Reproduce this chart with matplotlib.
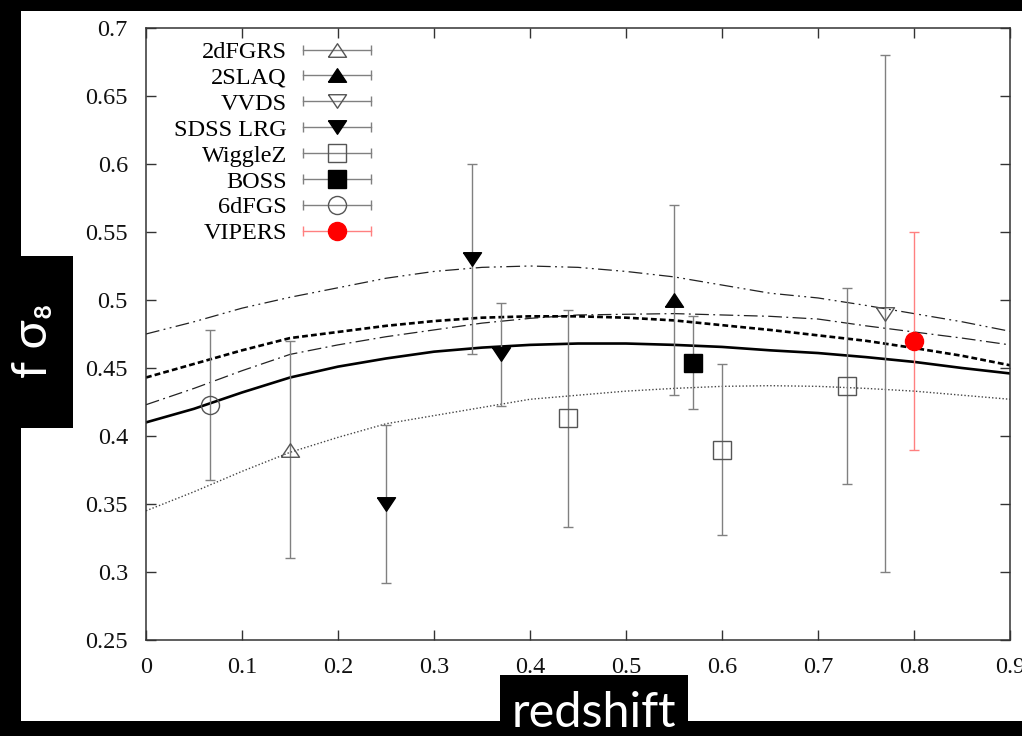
import matplotlib
matplotlib.use("Agg")
import matplotlib.pyplot as plt
from matplotlib.patches import Rectangle
from matplotlib.lines import Line2D
from matplotlib.container import ErrorbarContainer
from matplotlib.legend_handler import HandlerBase

# ---------------- data ----------------
survey_names = ["2dFGRS", "2SLAQ", "VVDS", "SDSS LRG", "WiggleZ", "BOSS", "6dFGS", "VIPERS"]

z_2dfgrs = [0.15]
f_2dfgrs = [0.39]
e_2dfgrs = [0.08]

z_2slaq = [0.55]
f_2slaq = [0.50]
e_2slaq = [0.07]

z_vvds = [0.77]
f_vvds = [0.49]
e_vvds = [0.19]

z_sdss = [0.25, 0.34, 0.37]
f_sdss = [0.35, 0.53, 0.46]
e_sdss = [0.058, 0.07, 0.038]

z_wigglez = [0.44, 0.60, 0.73]
f_wigglez = [0.413, 0.390, 0.437]
e_wigglez = [0.08, 0.063, 0.072]

z_boss = [0.57]
f_boss = [0.454]
e_boss = [0.034]

z_6df = [0.067]
f_6df = [0.423]
e_6df = [0.055]

z_vipers = [0.80]
f_vipers = [0.47]
e_vipers = [0.08]

# model curves, values read at these redshifts
z_model = [0.0, 0.05, 0.10, 0.15, 0.20, 0.25, 0.30, 0.35, 0.40, 0.45,
           0.50, 0.55, 0.60, 0.65, 0.70, 0.75, 0.80, 0.85, 0.90]
f_solid = [0.410, 0.420, 0.432, 0.443, 0.451, 0.457, 0.462, 0.465, 0.467, 0.468,
           0.468, 0.467, 0.4655, 0.463, 0.461, 0.458, 0.4545, 0.450, 0.446]
f_dashed = [0.443, 0.453, 0.463, 0.472, 0.4765, 0.481, 0.4845, 0.487, 0.488, 0.488,
            0.487, 0.485, 0.4815, 0.478, 0.474, 0.470, 0.4647, 0.459, 0.452]
f_dashdot = [0.423, 0.435, 0.448, 0.460, 0.467, 0.473, 0.478, 0.483, 0.4865, 0.489,
             0.4895, 0.490, 0.489, 0.488, 0.486, 0.481, 0.4765, 0.472, 0.467]
f_dashdotdot = [0.475, 0.484, 0.494, 0.502, 0.509, 0.516, 0.521, 0.524, 0.525, 0.524,
                0.521, 0.517, 0.511, 0.505, 0.5015, 0.496, 0.490, 0.484, 0.477]
f_dotted = [0.345, 0.359, 0.374, 0.388, 0.399, 0.409, 0.415, 0.421, 0.427, 0.430,
            0.433, 0.435, 0.4365, 0.437, 0.4365, 0.435, 0.433, 0.430, 0.427]

x_ticks = [0.0, 0.1, 0.2, 0.3, 0.4, 0.5, 0.6, 0.7, 0.8, 0.9]
x_tick_labels = ["0", "0.1", "0.2", "0.3", "0.4", "0.5", "0.6", "0.7", "0.8", "0.9"]
y_ticks = [0.25, 0.30, 0.35, 0.40, 0.45, 0.50, 0.55, 0.60, 0.65, 0.70]
y_tick_labels = ["0.25", "0.3", "0.35", "0.4", "0.45", "0.5", "0.55", "0.6", "0.65", "0.7"]

x_label = "redshift"
y_label = "f σ₈"

# ---------------- style ----------------
W, H = 1022, 736
SERIF = "Liberation Serif"
TICK_FS = 17.5
GREY = "#808080"
OPEN_EC = "#555555"

TRI_UP = [(-1, -0.75), (1, -0.75), (0, 0.75), (-1, -0.75)]
TRI_DN = [(-1, 0.75), (1, 0.75), (0, -0.75), (-1, 0.75)]

fig = plt.figure(figsize=(W / 100, H / 100), dpi=100)
fig.patch.set_facecolor("black")

# white page area
fig.patches.append(Rectangle((21 / W, (H - 721) / H), 1 - 21 / W, (721 - 11) / H,
                             transform=fig.transFigure, facecolor="white",
                             edgecolor="none", zorder=-5))
# black label boxes
fig.patches.append(Rectangle((21 / W, (H - 428) / H), (73 - 21) / W, (428 - 256) / H,
                             transform=fig.transFigure, facecolor="black",
                             edgecolor="none", zorder=1))
fig.patches.append(Rectangle((500 / W, (H - 722) / H), (688 - 500) / W, (722 - 675) / H,
                             transform=fig.transFigure, facecolor="black",
                             edgecolor="none", zorder=1))

ax = fig.add_axes([146 / W, (H - 640) / H, (1010 - 146) / W, (640 - 28) / H])
ax.set_facecolor("white")

# model curves
ax.plot(z_model, f_dotted, color="#444444", lw=1.0, dashes=(1.0, 1.5), zorder=2)
ax.plot(z_model, f_dashdotdot, color="#222222", lw=0.9,
        dashes=(11, 3.5, 1.5, 3.5, 1.5, 3.5), zorder=2)
ax.plot(z_model, f_dashdot, color="#222222", lw=0.9, dashes=(11, 3.5, 1.5, 3.5), zorder=2)
ax.plot(z_model, f_dashed, color="black", lw=1.9, dashes=(2.2, 1.2), zorder=2)
ax.plot(z_model, f_solid, color="black", lw=1.9, zorder=2)

eb_kw = dict(linestyle="none", elinewidth=1.0, capsize=3.5, capthick=1.0, zorder=3)

series = [
    (z_2dfgrs, f_2dfgrs, e_2dfgrs, dict(marker=TRI_UP, ms=13, mfc="none", mec=OPEN_EC, mew=1.0, ecolor=GREY)),
    (z_2slaq, f_2slaq, e_2slaq, dict(marker=TRI_UP, ms=13, mfc="black", mec="black", mew=1.0, ecolor=GREY)),
    (z_vvds, f_vvds, e_vvds, dict(marker=TRI_DN, ms=13, mfc="none", mec=OPEN_EC, mew=1.0, ecolor=GREY)),
    (z_sdss, f_sdss, e_sdss, dict(marker=TRI_DN, ms=13, mfc="black", mec="black", mew=1.0, ecolor=GREY)),
    (z_wigglez, f_wigglez, e_wigglez, dict(marker="s", ms=12.5, mfc="none", mec=OPEN_EC, mew=1.0, ecolor=GREY)),
    (z_boss, f_boss, e_boss, dict(marker="s", ms=12.5, mfc="black", mec="black", mew=1.0, ecolor=GREY)),
    (z_6df, f_6df, e_6df, dict(marker="o", ms=13, mfc="none", mec=OPEN_EC, mew=1.0, ecolor=GREY)),
    (z_vipers, f_vipers, e_vipers, dict(marker="o", ms=13, mfc="#ff0000", mec="#ff0000", mew=1.0, ecolor="#ff8080")),
]

handles = []
for name, (zz, ff, ee, kw) in zip(survey_names, series):
    c = ax.errorbar(zz, ff, yerr=ee, label=name, **eb_kw, **kw)
    handles.append(c)


class HandlerHErr(HandlerBase):
    def create_artists(self, legend, orig_handle, xdescent, ydescent, width, height,
                       fontsize, trans):
        data_line = orig_handle.lines[0]
        ecol = orig_handle.lines[2][0].get_color()[0]
        y = (height - ydescent) / 2.0
        x0 = -xdescent
        x1 = width - xdescent
        bar = Line2D([x0, x1], [y, y], color=ecol, lw=1.0)
        caps = Line2D([x0, x1], [y, y], ls="none", marker="|", ms=7, mew=1.0, color=ecol)
        mk = Line2D([(x0 + x1) / 2], [y], ls="none", marker=data_line.get_marker(),
                    ms=data_line.get_markersize(), mfc=data_line.get_markerfacecolor(),
                    mec=data_line.get_markeredgecolor(), mew=data_line.get_markeredgewidth())
        for a in (bar, caps, mk):
            a.set_transform(trans)
        return [bar, caps, mk]


leg = ax.legend(handles=handles, labels=survey_names,
                handler_map={ErrorbarContainer: HandlerHErr()},
                loc="upper left", bbox_to_anchor=((174 - 146) / 864, 1 - (41 - 28) / 612),
                frameon=False, markerfirst=False, borderpad=0, borderaxespad=0,
                handlelength=2.8, handletextpad=0.68, labelspacing=0.16,
                prop={"family": SERIF, "size": TICK_FS})

ax.set_xlim(0, 0.9)
ax.set_ylim(0.25, 0.7)
ax.set_xticks(x_ticks)
ax.set_xticklabels(x_tick_labels)
ax.set_yticks(y_ticks)
ax.set_yticklabels(y_tick_labels)
ax.tick_params(direction="in", length=7, width=1.0, top=True, right=True,
               labelsize=TICK_FS, color="#333333")
ax.tick_params(axis="y", pad=13)
ax.tick_params(axis="x", pad=12)
for lab in ax.get_xticklabels() + ax.get_yticklabels():
    lab.set_fontfamily(SERIF)
    lab.set_color("#111111")
for sp in ax.spines.values():
    sp.set_linewidth(1.1)
    sp.set_color("#333333")

# axis labels in black boxes
fig.text(594 / W, (H - 727) / H, x_label, color="white", fontsize=35,
         family=["Lato", "DejaVu Sans"], ha="center", va="baseline", zorder=6)
fig.text(33 / W, 1 - 341 / H, y_label, color="white", fontsize=35, rotation=90,
         family=["Lato", "DejaVu Sans"], ha="center", va="center", zorder=6)

fig.savefig("out.png", dpi=100, facecolor=fig.get_facecolor())
